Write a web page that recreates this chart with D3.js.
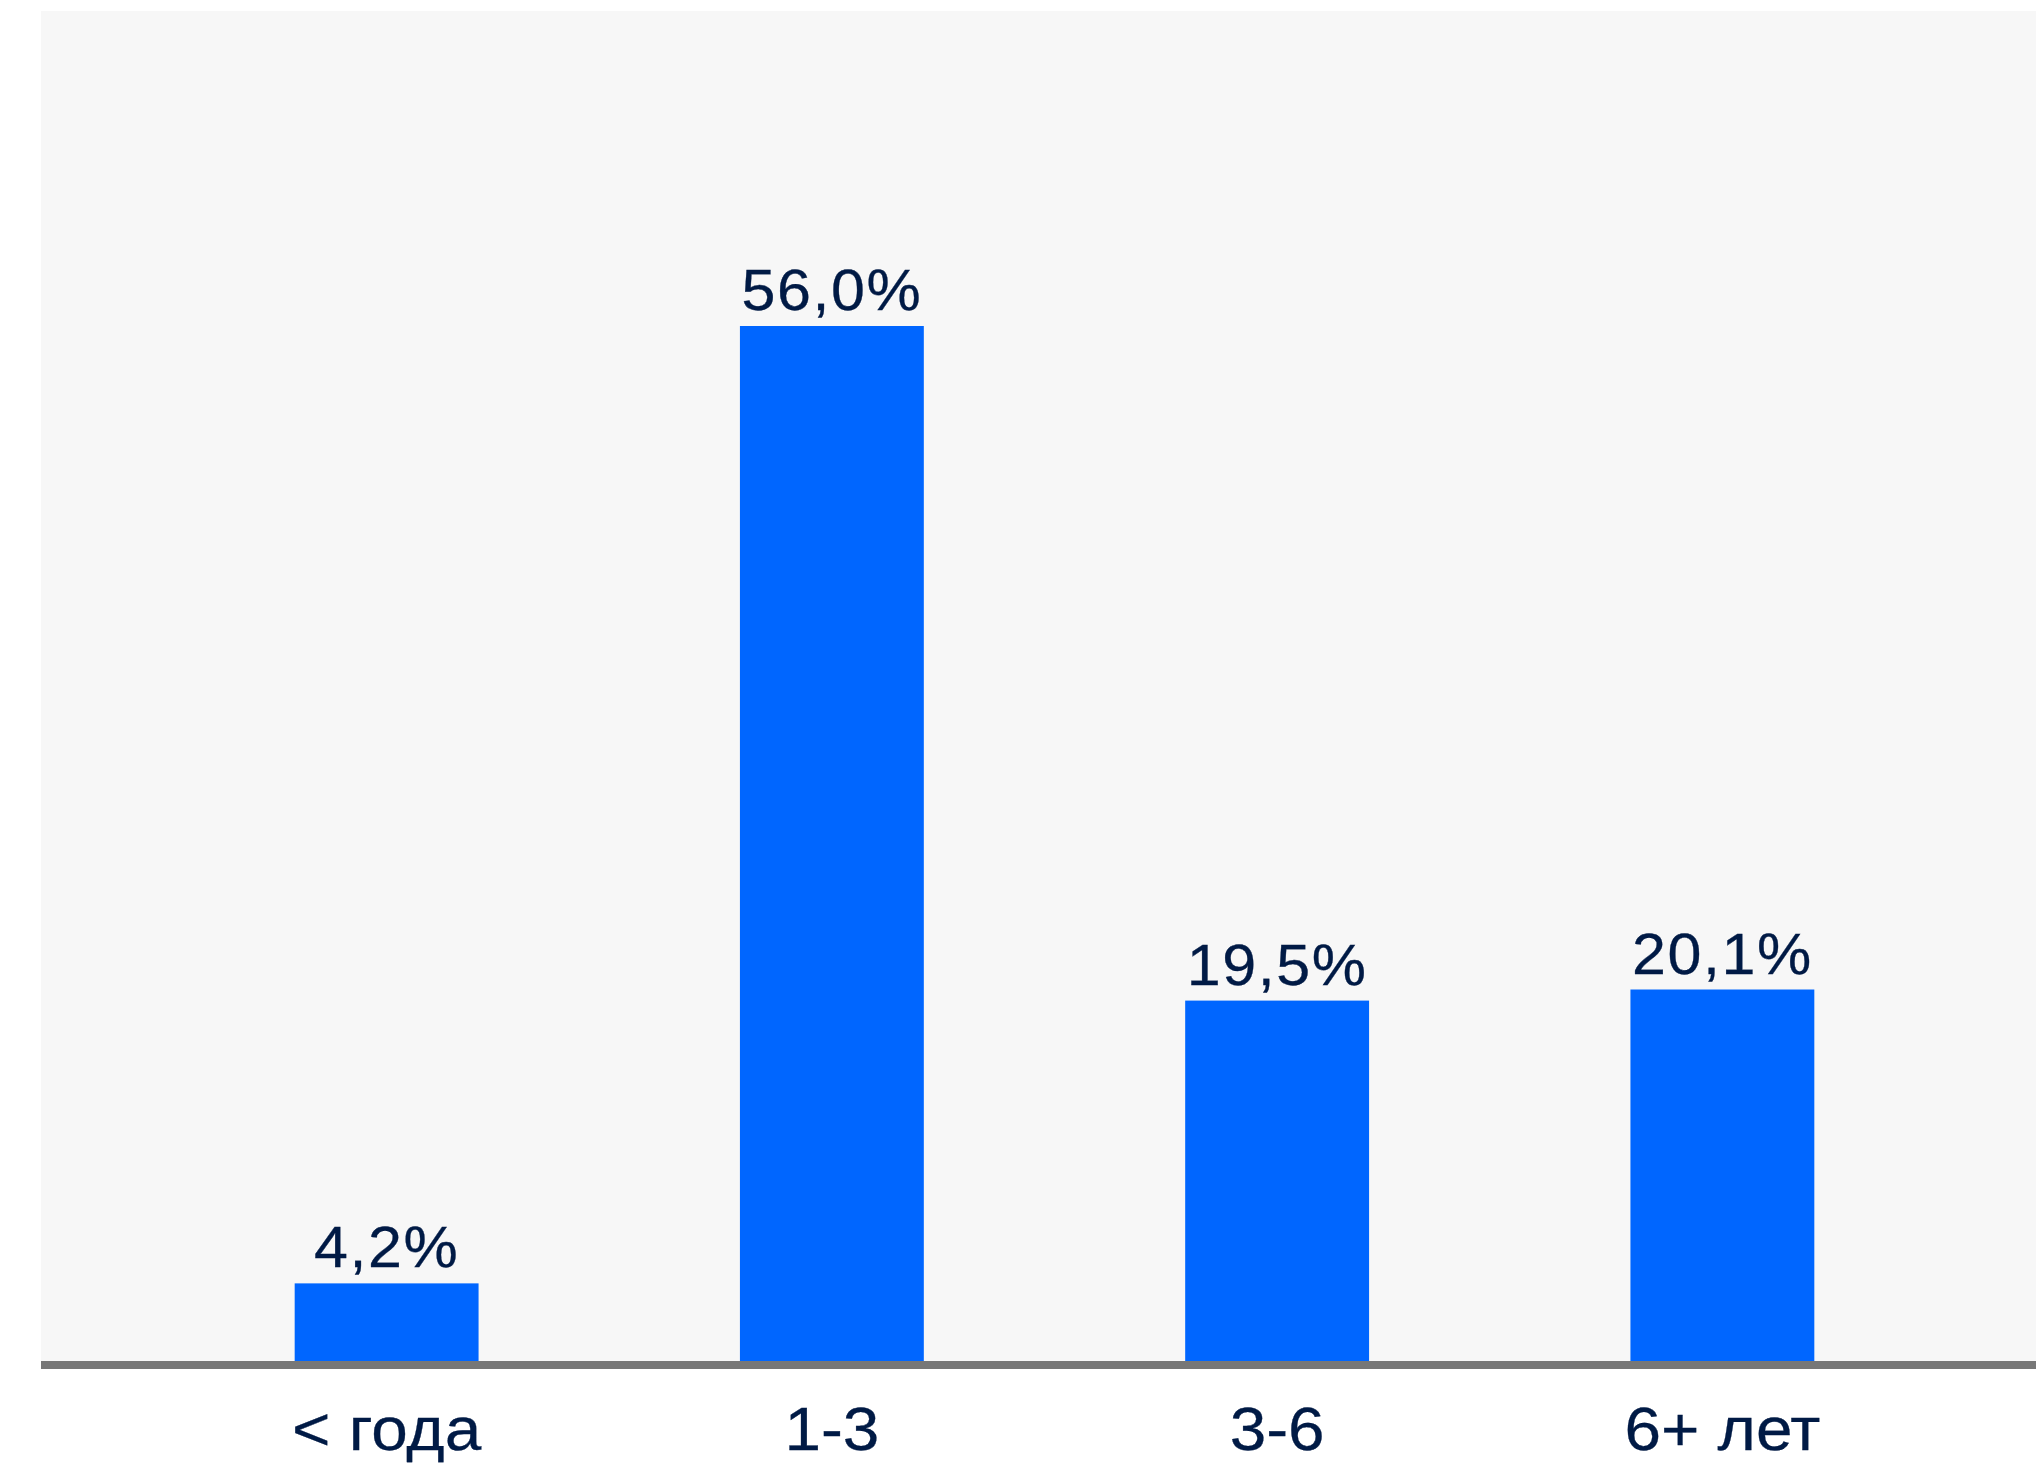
<!DOCTYPE html>
<html>
<head>
<meta charset="utf-8">
<script src="https://cdn.jsdelivr.net/npm/d3@7"></script>
<style>
  html, body { margin: 0; padding: 0; background: #ffffff; }
  svg { display: block; }
</style>
</head>
<body>
<svg id="chart" width="2044" height="1464"></svg>
<script>
const categories = ["< года", "1-3", "3-6", "6+ лет"];
const values = [4.2, 56.0, 19.5, 20.1];
const valueLabels = ["4,2%", "56,0%", "19,5%", "20,1%"];

const W = 2044, H = 1464;
const plot = { left: 41, right: 2036, top: 11, base: 1361 };
const FONT = "'Liberation Sans', Arial, Helvetica, sans-serif";
const TEXT_COLOR = "#001a45";

const svg = d3.select("#chart");

// plot background
svg.append("rect")
  .attr("x", plot.left).attr("y", plot.top)
  .attr("width", plot.right - plot.left)
  .attr("height", plot.base - plot.top)
  .attr("fill", "#f7f7f7");

const x = d3.scaleBand()
  .domain(categories)
  .range([164, 1945])
  .paddingInner(0.587)
  .paddingOuter(0.2935);

const y = d3.scaleLinear()
  .domain([0, 56])
  .range([plot.base, 326]);

const data = categories.map((c, i) => ({ c, v: values[i], label: valueLabels[i] }));

svg.append("g").selectAll("rect")
  .data(data)
  .join("rect")
  .attr("x", d => x(d.c))
  .attr("y", d => y(d.v))
  .attr("width", x.bandwidth())
  .attr("height", d => y(0) - y(d.v))
  .attr("fill", "#0066ff");

svg.append("g").selectAll("text")
  .data(data)
  .join("text")
  .attr("transform", d => `translate(${x(d.c) + x.bandwidth() / 2},${y(d.v) - 16}) scale(1.07,1)`)
  .attr("text-anchor", "middle")
  .attr("font-family", FONT)
  .attr("font-size", 57)
  .attr("letter-spacing", "1.5px")
  .attr("fill", TEXT_COLOR)
  .attr("stroke", TEXT_COLOR)
  .attr("stroke-width", 0.3)
  .text(d => d.label);

// x axis
const xAxis = d3.axisBottom(x).tickSize(0).tickPadding(0);
const gx = svg.append("g")
  .attr("transform", `translate(0,${plot.base})`)
  .call(xAxis);
gx.select(".domain").remove();
gx.selectAll("text")
  .attr("dy", null)
  .attr("y", 89)
  .attr("transform", "scale(1.06,1)")
  .attr("font-family", FONT)
  .attr("font-size", 62)
  .attr("fill", TEXT_COLOR)
  .attr("stroke", TEXT_COLOR)
  .attr("stroke-width", 0.3);

svg.append("line")
  .attr("x1", plot.left).attr("x2", plot.right)
  .attr("y1", plot.base + 4).attr("y2", plot.base + 4)
  .attr("stroke", "#777777")
  .attr("stroke-width", 8);
</script>
</body>
</html>
